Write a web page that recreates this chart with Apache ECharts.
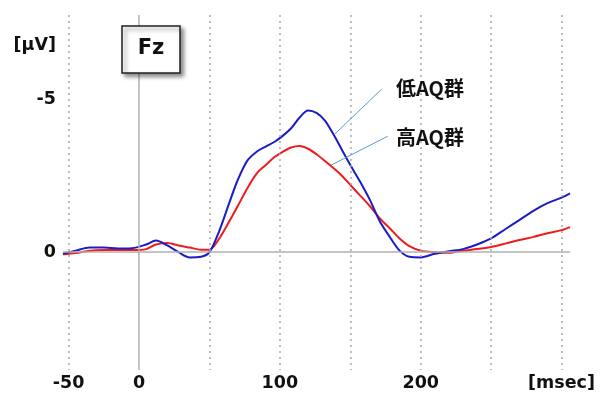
<!DOCTYPE html>
<html>
<head>
<meta charset="utf-8">
<script src="https://cdn.jsdelivr.net/npm/echarts@6/dist/echarts.min.js"></script>
<style>
html, body { margin: 0; padding: 0; background: #fff; }
#main { width: 602px; height: 396px; }
</style>
</head>
<body>
<div id="main"></div>
<script>
// time points (msec)
var times = [-54, -45, -35, -25, -15, -5, 5, 12, 20, 28, 36, 44, 50, 57, 64, 70, 77, 84, 90, 96,
    102, 108, 114, 120, 126, 132, 138, 144, 150, 157, 164, 171, 178, 185, 192, 200, 210, 220, 230,
    240, 250, 260, 270, 280, 290, 300, 306];
// 低AQ群 (blue), µV
var lowAQ = [0.05, -0.05, -0.15, -0.15, -0.12, -0.13, -0.25, -0.38, -0.22, 0.0, 0.17, 0.15, 0.0, -0.7,
    -1.6, -2.35, -3.0, -3.3, -3.45, -3.6, -3.8, -4.05, -4.4, -4.63, -4.55, -4.3, -3.85, -3.35, -2.85,
    -2.3, -1.7, -1.0, -0.5, -0.05, 0.15, 0.17, 0.05, -0.03, -0.1, -0.25, -0.45, -0.75, -1.05, -1.35,
    -1.6, -1.78, -1.92];
// 高AQ群 (red), µV
var highAQ = [0.07, 0.03, -0.05, -0.07, -0.07, -0.07, -0.1, -0.25, -0.3, -0.22, -0.15, -0.08, -0.08,
    -0.45, -1.0, -1.5, -2.1, -2.6, -2.85, -3.1, -3.28, -3.42, -3.47, -3.38, -3.2, -2.98, -2.75, -2.5,
    -2.2, -1.85, -1.5, -1.1, -0.78, -0.45, -0.2, -0.05, 0.0, 0.02, -0.05, -0.1, -0.17, -0.28, -0.4,
    -0.5, -0.62, -0.72, -0.82];
var xTicks = [-50, 0, 100, 200, 300];
var yTicks = [-6.75, -5, 0];
var gridLinesX = [-50, 50, 100, 150, 200, 250, 300];

function pairs(xs, ys) {
    var out = [];
    for (var i = 0; i < xs.length; i++) out.push([xs[i], ys[i]]);
    return out;
}

var dotted = { type: [2, 4], color: '#a8a8a8', width: 1.5 };
var vlines = [];
for (var i = 0; i < gridLinesX.length; i++) {
    vlines.push({ xAxis: gridLinesX[i], lineStyle: dotted });
}
vlines.push({ xAxis: 0, lineStyle: { type: 'solid', color: '#b0b0b0', width: 1.5 } });
vlines.push({ yAxis: 0, lineStyle: { type: 'solid', color: '#b0b0b0', width: 1.5 } });

var leader = { type: 'solid', color: '#5b9bd5', width: 1 };

var labelFont = { fontFamily: 'DejaVu Sans', fontWeight: 'bold', fontSize: 17.5, color: '#111' };

var chart = echarts.init(document.getElementById('main'), null, { renderer: 'canvas' });
chart.setOption({
    animation: false,
    backgroundColor: '#fff',
    grid: { left: 63, right: 32, top: 15, bottom: 26 },
    xAxis: {
        type: 'value', min: -54, max: 306,
        axisLine: { show: false }, axisTick: { show: false }, splitLine: { show: false },
        axisLabel: Object.assign({
            customValues: xTicks, margin: 4,
            formatter: function (v) { return v === 300 ? '[msec]' : String(v); }
        }, labelFont)
    },
    yAxis: {
        type: 'value', inverse: true, min: -7.75, max: 3.85,
        axisLine: { show: false }, axisTick: { show: false }, splitLine: { show: false },
        axisLabel: Object.assign({
            customValues: yTicks, margin: 7,
            formatter: function (v) { return v === -6.75 ? '[μV]' : String(v); }
        }, labelFont)
    },
    series: [{
        name: 'grid', type: 'line', data: [], silent: true,
        markLine: { silent: true, symbol: 'none', label: { show: false }, data: vlines }
    }, {
        name: '高AQ群', type: 'line', data: pairs(times, highAQ), smooth: 0.3,
        showSymbol: false, lineStyle: { color: '#ee1c1c', width: 2 }, z: 3
    }, {
        name: '低AQ群', type: 'line', data: pairs(times, lowAQ), smooth: 0.3,
        showSymbol: false, lineStyle: { color: '#1c1cc4', width: 2 }, z: 4,
        markLine: {
            silent: true, symbol: 'none', label: { show: false },
            data: [
                [{ coord: [172.3, -5.33], lineStyle: leader }, { coord: [139, -3.86] }],
                [{ coord: [176.6, -3.79], lineStyle: leader }, { coord: [136.2, -2.84] }]
            ]
        }
    }],
    graphic: [{
        type: 'rect', shape: { x: 122, y: 26, width: 58, height: 47 },
        style: { fill: '#fff', stroke: '#222', lineWidth: 1.5, shadowBlur: 4, shadowOffsetX: 3, shadowOffsetY: 3, shadowColor: 'rgba(0,0,0,0.45)' },
        z: 10
    }, {
        type: 'text', x: 151, y: 49,
        style: { text: 'Fz', fontFamily: 'DejaVu Sans', fontWeight: 'bold', fontSize: 21, fill: '#111', align: 'center', verticalAlign: 'middle' },
        z: 11
    }, {
        type: 'text', x: 396, y: 88,
        style: { text: '低AQ群', fontFamily: 'Noto Sans CJK JP', fontWeight: 'bold', fontSize: 20, fill: '#111', verticalAlign: 'middle' },
        z: 11
    }, {
        type: 'text', x: 396, y: 137,
        style: { text: '高AQ群', fontFamily: 'Noto Sans CJK JP', fontWeight: 'bold', fontSize: 20, fill: '#111', verticalAlign: 'middle' },
        z: 11
    }]
});
</script>
</body>
</html>
